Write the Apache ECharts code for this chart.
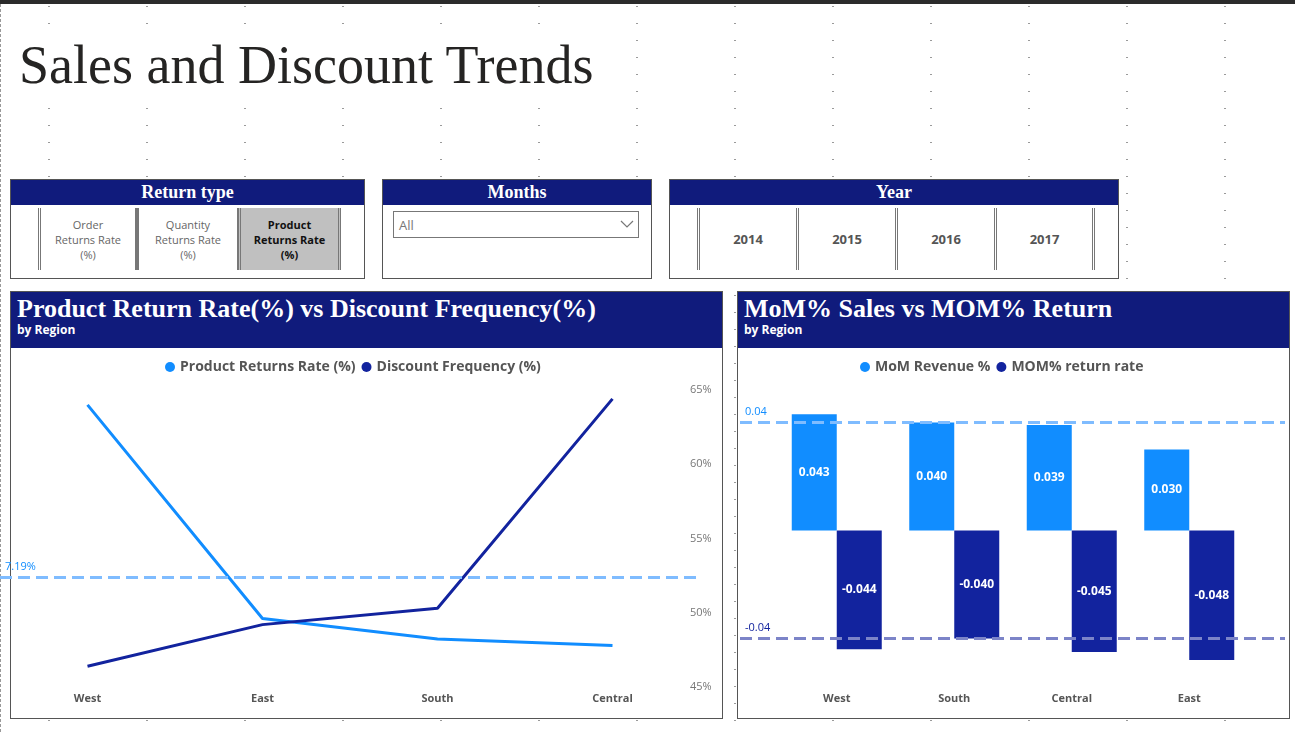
<!DOCTYPE html>
<html>
<head>
<meta charset="utf-8">
<script src="https://cdn.jsdelivr.net/npm/echarts@6/dist/echarts.min.js"></script>
<style>
  body { margin:0; width:1295px; height:732px; position:relative; overflow:hidden; background:#fff;
         font-family:"Open Sans","Noto Sans",sans-serif; }
  .dots { position:absolute; left:0; top:0; width:1295px; height:732px;
          background-image: radial-gradient(#9a9a9a 0.8px, transparent 1px);
          background-size: 98px 17px; background-position: 98px 100px; }
  .topbar { position:absolute; left:0; top:0; width:1295px; height:4px; background:#2b2b2b; }
  .lborder { position:absolute; left:0; top:4px; width:0; height:728px; border-left:1px dashed #999; }
  h1 { position:absolute; left:19px; top:34px; margin:0; font-family:"Liberation Serif","DejaVu Serif",serif;
       font-weight:normal; font-size:54px; color:#252423; background:#fff; }
  .panel { position:absolute; border:1px solid #555; background:#fff; box-sizing:border-box; }
  .head { background:#101b7c; color:#fff; text-align:center; font-family:"Liberation Serif",serif;
          font-weight:bold; font-size:18px; height:25px; line-height:24px; }
  .btn { position:absolute; top:28px; height:62px; border-left:3px double #777; border-right:3px double #777;
         box-sizing:border-box; display:flex; align-items:center; justify-content:center; text-align:center;
         font-size:11px; color:#666; line-height:15px; }
  .sel { background:#c0c0c0; color:#111; font-weight:bold; }
  .yr { font-weight:bold; font-size:13px; color:#555; }
  .chead { background:#101b7c; color:#fff; height:56px; padding-left:6px; }
  .chead .t { font-family:"Liberation Serif",serif; font-weight:bold; font-size:26px; padding-top:2px; }
  .chead .s { font-weight:bold; font-size:12px; margin-top:-3px; }
  #chart { position:absolute; left:0; top:0; width:1295px; height:732px; }
</style>
</head>
<body>
<div class="dots"></div>
<div class="topbar"></div>
<div class="lborder"></div>
<h1>Sales and Discount Trends</h1>

<div class="panel" style="left:10px;top:179px;width:355px;height:100px;">
  <div class="head">Return type</div>
  <div class="btn" style="left:27px;width:100px;">Order<br>Returns Rate<br>(%)</div>
  <div class="btn" style="left:125px;width:104px;">Quantity<br>Returns Rate<br>(%)</div>
  <div class="btn sel" style="left:227px;width:103px;">Product<br>Returns Rate<br>(%)</div>
</div>
<div class="panel" style="left:382px;top:179px;width:270px;height:100px;">
  <div class="head">Months</div>
  <div style="position:absolute;left:10px;top:31px;width:246px;height:27px;border:1px solid #777;box-sizing:border-box;font-size:13px;color:#777;line-height:27px;padding-left:5px;">All
    <svg style="position:absolute;right:4px;top:8px" width="14" height="9"><polyline points="1,1 7,7 13,1" fill="none" stroke="#777" stroke-width="1.2"/></svg></div>
</div>
<div class="panel" style="left:669px;top:179px;width:450px;height:100px;">
  <div class="head">Year</div>
  <div class="btn yr" style="left:27px;width:102px;">2014</div>
  <div class="btn yr" style="left:126px;width:102px;">2015</div>
  <div class="btn yr" style="left:225px;width:102px;">2016</div>
  <div class="btn yr" style="left:324px;width:101px;">2017</div>
</div>

<div class="panel" style="left:10px;top:291px;width:713px;height:428px;">
  <div class="chead"><div class="t">Product Return Rate(%) vs Discount Frequency(%)</div><div class="s">by Region</div></div>
</div>
<div class="panel" style="left:737px;top:291px;width:553px;height:428px;">
  <div class="chead"><div class="t">MoM% Sales vs MOM% Return</div><div class="s">by Region</div></div>
</div>

<div id="chart"></div>
<script>
var regionsL = ['West', 'East', 'South', 'Central'];
var returnsRate = [15.30, 5.23, 4.26, 3.96];
var discountFreq = [46.4, 49.2, 50.3, 64.4];
var regionsR = ['West', 'South', 'Central', 'East'];
var momRevenue = [0.043, 0.040, 0.039, 0.030];
var momReturn = [-0.044, -0.040, -0.045, -0.048];

var light = '#118DFF', dark = '#12239E';
function avg(a) { return a.reduce(function (s, v) { return s + v; }, 0) / a.length; }
var retPos = ['bottom', 'top', 'top', 'bottom'];
var discPos = ['bottom', 'bottom', 'top', 'bottom'];
var lblStyle = { color: '#444', fontSize: 12, fontFamily: 'Open Sans' };

var chart = echarts.init(document.getElementById('chart'));
chart.setOption({
  animation: false,
  textStyle: { fontFamily: 'Open Sans' },
  legend: [
    { left: 160, top: 355, itemWidth: 10, itemHeight: 10, itemGap: 6, icon: 'circle',
      textStyle: { color: '#555', fontSize: 14, fontWeight: 'bold' },
      data: ['Product Returns Rate (%)', 'Discount Frequency (%)'] },
    { left: 855, top: 355, itemWidth: 10, itemHeight: 10, itemGap: 6, icon: 'circle',
      textStyle: { color: '#555', fontSize: 14, fontWeight: 'bold' },
      data: ['MoM Revenue %', 'MOM% return rate'] }
  ],
  grid: [
    { left: 0, top: 390, width: 700, height: 297 },
    { left: 778, top: 390, width: 470, height: 297 },
    { left: 740, top: 390, width: 545, height: 297 }
  ],
  xAxis: [
    { type: 'category', gridIndex: 0, data: regionsL, axisLine: { show: false }, axisTick: { show: false },
      axisLabel: { color: '#555', fontSize: 11, fontWeight: 'bold', margin: 6 } },
    { type: 'category', gridIndex: 1, data: regionsR, axisLine: { show: false }, axisTick: { show: false },
      axisLabel: { color: '#555', fontSize: 11, fontWeight: 'bold', margin: 6 } },
    { type: 'value', gridIndex: 2, min: 0, max: 1, show: false }
  ],
  yAxis: [
    { type: 'value', gridIndex: 0, min: 2, max: 16, show: false },
    { type: 'value', gridIndex: 0, position: 'right', min: 45, max: 65, interval: 5,
      axisLine: { show: false }, axisTick: { show: false }, splitLine: { show: false },
      axisLabel: { color: '#777', fontSize: 11, margin: -10, formatter: '{value}%' } },
    { type: 'value', gridIndex: 1, min: -0.058, max: 0.052, show: false },
    { type: 'value', gridIndex: 2, min: -0.058, max: 0.052, show: false }
  ],
  series: [
    { name: 'Product Returns Rate (%)', type: 'line', xAxisIndex: 0, yAxisIndex: 0, color: light,
      symbol: 'none', lineStyle: { width: 3 },
      data: returnsRate.map(function (v, i) {
        return { value: v, label: { show: true, position: retPos[i], distance: 6,
          formatter: v.toFixed(2) + '%' } };
      }),
      label: lblStyle,
      markLine: { symbol: 'none', silent: true,
        lineStyle: { type: 'dashed', color: '#7fbcff', width: 3 },
        label: { position: 'insideStartTop', color: light, fontSize: 11,
          formatter: function (p) { return p.value.toFixed(2) + '%'; } },
        data: [{ type: 'average' }] } },
    { name: 'Discount Frequency (%)', type: 'line', xAxisIndex: 0, yAxisIndex: 1, color: dark,
      symbol: 'none', lineStyle: { width: 3 },
      data: discountFreq.map(function (v, i) {
        return { value: v, label: { show: true, position: discPos[i], distance: 6,
          formatter: Math.round(v) + '%' } };
      }),
      label: lblStyle },
    { name: 'MoM Revenue %', type: 'bar', xAxisIndex: 1, yAxisIndex: 2, color: light,
      barWidth: 45, barGap: '0%', data: momRevenue,
      label: { show: true, position: 'inside', color: '#fff', fontWeight: 'bold', fontSize: 12,
        formatter: function (p) { return p.value.toFixed(3); } } },
    { name: 'MOM% return rate', type: 'bar', xAxisIndex: 1, yAxisIndex: 2, color: dark,
      barWidth: 45, barGap: '0%', data: momReturn,
      label: { show: true, position: 'inside', color: '#fff', fontWeight: 'bold', fontSize: 12,
        formatter: function (p) { return p.value.toFixed(3); } } },
    { type: 'line', xAxisIndex: 2, yAxisIndex: 3, data: [[0, 0]], symbol: 'none', lineStyle: { width: 0 },
      silent: true,
      markLine: { symbol: 'none', silent: true,
        label: { position: 'insideStartTop', fontSize: 11,
          formatter: function (p) { return p.value.toFixed(2); } },
        data: [
          { yAxis: avg(momRevenue), lineStyle: { type: 'dashed', color: '#7fbcff', width: 3 },
            label: { color: light } },
          { yAxis: avg(momReturn), lineStyle: { type: 'dashed', color: '#7c84c8', width: 3 },
            label: { color: dark } }
        ] } }
  ]
});
</script>
</body>
</html>
